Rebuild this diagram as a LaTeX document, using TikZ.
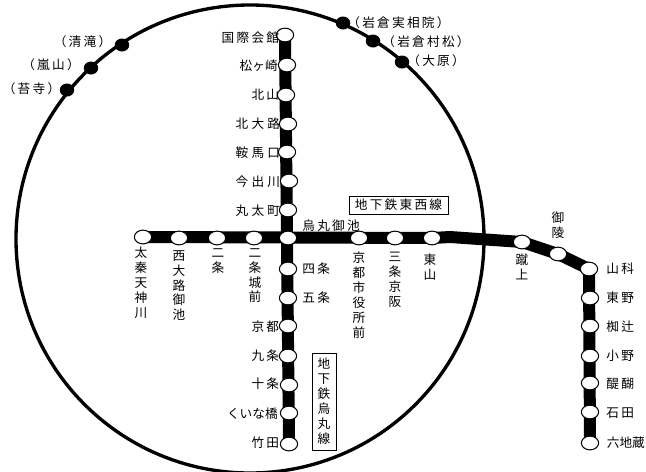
\documentclass[tikz,border=0pt]{standalone}
\usepackage{fontspec}
\usepackage{tikz}
\usetikzlibrary{shapes.geometric, backgrounds}

\newfontfamily\jpwide[LetterSpace=18]{Noto Sans CJK JP}
\newfontfamily\jpwider[LetterSpace=26]{Noto Sans CJK JP}
\newfontfamily\jptight{Noto Sans CJK JP}

\tikzset{
	stn/.style={ellipse, draw=black, fill=white, line width=0.6pt, inner sep=0pt, minimum width=0.345cm, minimum height=0.275cm},
	dot/.style={ellipse, fill=black, inner sep=0pt, minimum width=0.29cm, minimum height=0.26cm},
	railway/.style={line width=0.24cm, black, line join=miter},
	lbl/.style={inner sep=0pt, font=\fontsize{7.2}{8.5}\selectfont\jpwide},
	lblw/.style={inner sep=0pt, font=\fontsize{7.2}{8.5}\selectfont\jpwider},
	plain/.style={inner sep=0pt, font=\fontsize{7.2}{8.5}\selectfont\jptight},
	vlbl/.style={inner sep=0pt, align=center, anchor=north, font=\fontsize{7.2}{8.5}\selectfont\jptight},
	linebox/.style={draw=black, line width=0.4pt, fill=white}
}

\begin{document}
\begin{tikzpicture}[x=0.02cm, y=-0.02cm]

	\useasboundingbox (0,0) rectangle (646,471);
	\clip (0,0) rectangle (646,471);

	% outer ring
	\draw[line width=1.9pt] (250,239) circle [radius=234];

	% stations on the ring
	\node[dot] (kokedera) at (67,90) {};
	\node[dot] (arashiyama) at (91,68) {};
	\node[dot] (kiyotaki) at (122,45) {};
	\node[dot] (jissoin) at (343,23) {};
	\node[dot] (muramatsu) at (373,41) {};
	\node[dot] (ohara) at (402,62) {};

	% north-south line
	\node[stn] (kokusai) at (285,35) {};
	\node[stn] (matsugasaki) at (287,65) {};
	\node[stn] (kitayama) at (286,95) {};
	\node[stn] (kitaoji) at (288,124) {};
	\node[stn] (kuramaguchi) at (287,152) {};
	\node[stn] (imadegawa) at (289,181) {};
	\node[stn] (marutamachi) at (288,210) {};
	\node[stn] (oike) at (288,238) {};
	\node[stn] (shijo) at (288,269) {};
	\node[stn] (gojo) at (288,298) {};
	\node[stn] (kyoto) at (288,326) {};
	\node[stn] (kujo) at (288,356) {};
	\node[stn] (jujo) at (289,385) {};
	\node[stn] (kuinabashi) at (289,413) {};
	\node[stn] (takeda) at (289,444) {};

	% east-west line
	\node[stn] (uzumasa) at (143,237) {};
	\node[stn] (nishioji) at (179,238) {};
	\node[stn] (nijo) at (217,238) {};
	\node[stn] (nijojo) at (254,238) {};
	\node[stn] (shiyakusho) at (359,238) {};
	\node[stn] (sanjo) at (395,238) {};
	\node[stn] (higashiyama) at (432,238) {};
	\coordinate (bend) at (450,237);
	\node[stn] (keage) at (522,242) {};
	\node[stn] (misasagi) at (558,254) {};
	\node[stn] (yamashina) at (589,269) {};
	\node[stn] (higashino) at (590,298) {};
	\node[stn] (nagitsuji) at (590,326) {};
	\node[stn] (ono) at (590,356) {};
	\node[stn] (daigo) at (590,383) {};
	\node[stn] (ishida) at (590,412) {};
	\node[stn] (rokujizo) at (590,443) {};

	\begin{pgfonlayer}{background}
		\draw[railway] (kokusai.center) -- (takeda.center);
		\draw[railway] (uzumasa.center) -- (higashiyama.center) -- (bend) -- (keage.center) -- (misasagi.center) -- (yamashina.center) -- (rokujizo.center);
	\end{pgfonlayer}

	% labels
	\node[lbl] (kokederaL) at (31.5,89) {（苔寺）};
	\node[lbl] (arashiyamaL) at (51,65) {（嵐山）};
	\node[lbl] (kiyotakiL) at (82.5,42) {（清滝）};
	\node[lbl, anchor=west] (jissoinL) at (347,23) {（岩倉実相院）};
	\node[lbl, anchor=west] (muramatsuL) at (382,42) {（岩倉村松）};
	\node[lbl, anchor=west] (oharaL) at (407,61) {（大原）};

	\node[lbl, anchor=east] (kokusaiL) at (279.5,38) {国際会館};
	\node[plain, anchor=east] (matsugasakiL) at (278,66) {松ヶ崎};
	\node[lbl, anchor=east] (kitayamaL) at (279.5,95) {北山};
	\node[lblw, anchor=east] (kitaojiL) at (280.5,124) {北大路};
	\node[lblw, anchor=east] (kuramaguchiL) at (280.5,153) {鞍馬口};
	\node[lblw, anchor=east] (imadegawaL) at (280.5,182) {今出川};
	\node[lblw, anchor=east] (marutamachiL) at (280.5,211) {丸太町};
	\node[lbl, anchor=west] (oikeL) at (302,226) {烏丸御池};
	\node[lbl, anchor=west] (shijoL) at (302,269) {四条};
	\node[lbl, anchor=west] (gojoL) at (302,298) {五条};
	\node[lbl, anchor=east] (kyotoL) at (279.5,327) {京都};
	\node[lbl, anchor=east] (kujoL) at (279.5,356) {九条};
	\node[lbl, anchor=east] (jujoL) at (279.5,384) {十条};
	\node[plain, anchor=east] (kuinabashiL) at (278,414) {くいな橋};
	\node[lbl, anchor=east] (takedaL) at (279.5,443) {竹田};

	\node[vlbl] (uzumasaL) at (141,247) {太\\秦\\天\\神\\川};
	\node[vlbl] (nishiojiL) at (179,250) {西\\大\\路\\御\\池};
	\node[vlbl] (nijoL) at (218,248) {二\\条};
	\node[vlbl] (nijojoL) at (255,248) {二\\条\\城\\前};
	\node[vlbl] (shiyakushoL) at (359,252) {京\\都\\市\\役\\所\\前};
	\node[vlbl] (sanjoL) at (395,252) {三\\条\\京\\阪};
	\node[vlbl] (higashiyamaL) at (430,254) {東\\山};
	\node[vlbl] (keageL) at (522,254) {蹴\\上};
	\node[vlbl] (misasagiL) at (558,212) {御\\陵};

	\node[lbl, anchor=west] (yamashinaL) at (606,269) {山科};
	\node[lbl, anchor=west] (higashinoL) at (606,298) {東野};
	\node[lbl, anchor=west] (nagitsujiL) at (606,327) {椥辻};
	\node[lbl, anchor=west] (onoL) at (606,356) {小野};
	\node[lbl, anchor=west] (daigoL) at (606,384) {醍醐};
	\node[lbl, anchor=west] (ishidaL) at (606,413) {石田};
	\node[plain, anchor=west] (rokujizoL) at (606.5,443) {六地蔵};

	% line names
	\node[linebox, lbl, minimum width=1.98cm, minimum height=0.36cm] (tozai) at (398.5,205) {地下鉄東西線};
	\node[linebox, vlbl, anchor=center, minimum width=0.48cm, minimum height=1.94cm] (karasuma) at (324,401.5) {地\\下\\鉄\\烏\\丸\\線};
\end{tikzpicture}
\end{document}
